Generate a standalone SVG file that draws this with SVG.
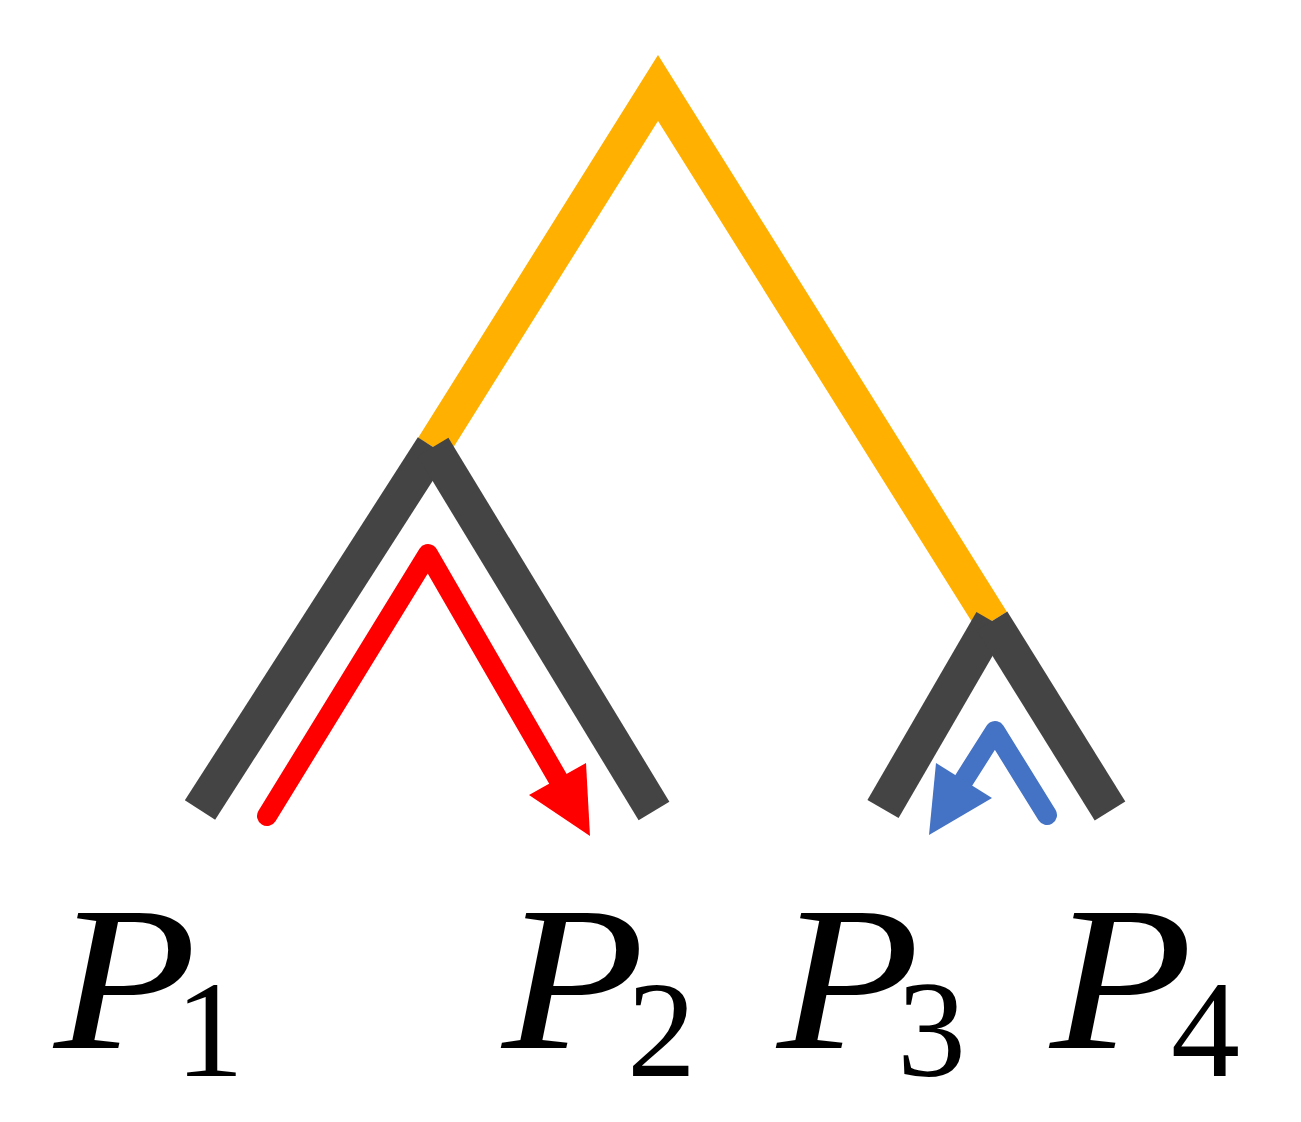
<svg xmlns="http://www.w3.org/2000/svg" width="1301" height="1122" viewBox="0 0 1301 1122">
<style>
.org{fill:none;stroke:#FFB000;stroke-width:35;stroke-linejoin:miter;stroke-linecap:butt}
.gry{fill:none;stroke:#444444;stroke-width:36;stroke-linecap:butt}
.red{fill:none;stroke:#FF0000;stroke-width:20;stroke-linecap:round;stroke-linejoin:round}
.blu{fill:none;stroke:#4472C4;stroke-width:20;stroke-linecap:round;stroke-linejoin:round}
.lbl{font-family:"Liberation Serif","Times New Roman",serif;fill:#000}
.P{font-style:italic;font-size:205px}
.s{font-size:138px}
</style>
<rect width="1301" height="1122" fill="#fff"/>
<g id="connectors">
<polyline class="org" points="433,447 658,88 992,621"/>
<line class="gry" x1="200" y1="810" x2="433" y2="447"/>
<line class="gry" x1="433" y1="447" x2="654" y2="811"/>
<line class="gry" x1="883" y1="809" x2="992" y2="621"/>
<line class="gry" x1="992" y1="621" x2="1110" y2="811"/>
<polyline class="red" points="267,816 428,554 558,779"/>
<polygon fill="#FF0000" points="529,795 586,763 590,836"/>
<polyline class="blu" points="1047,815 995,731 964,780"/>
<polygon fill="#4472C4" points="936,763 992,798 929,835"/>
</g>
<g id="P1"><text class="lbl P" transform="translate(54,1048) scale(1.14,1)">P</text><text class="lbl s" x="175" y="1076">1</text></g>
<g id="P2"><text class="lbl P" transform="translate(502,1048) scale(1.14,1)">P</text><text class="lbl s" x="627" y="1076">2</text></g>
<g id="P3"><text class="lbl P" transform="translate(777,1048) scale(1.14,1)">P</text><text class="lbl s" x="897" y="1076">3</text></g>
<g id="P4"><text class="lbl P" transform="translate(1050,1048) scale(1.14,1)">P</text><text class="lbl s" x="1171" y="1076">4</text></g>
</svg>
